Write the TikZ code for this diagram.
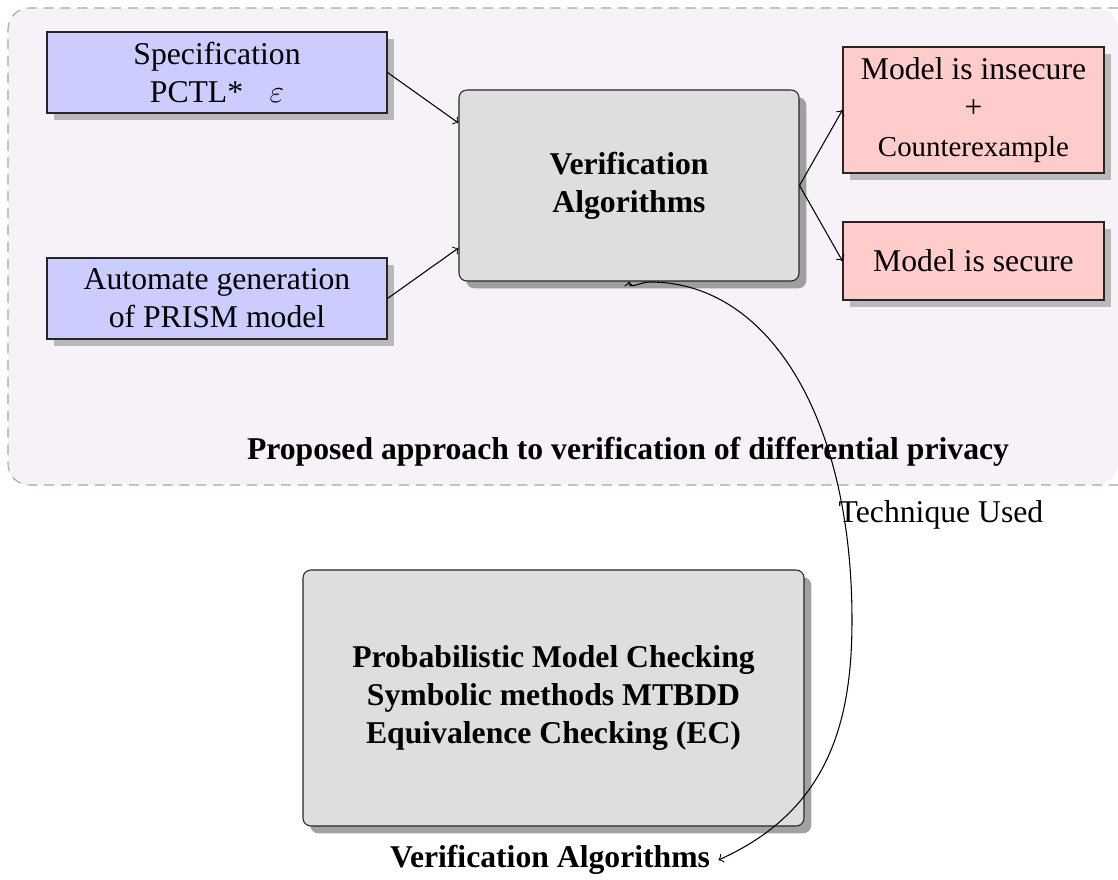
\documentclass[tikz,border=0pt,12pt]{standalone}
\usepackage{fontspec}
\setmainfont{Liberation Serif}
\usetikzlibrary{shadows,calc}
\definecolor{bgcol}{RGB}{247,241,248}
\definecolor{bluebox}{RGB}{204,204,255}
\definecolor{redbox}{RGB}{255,204,204}
\definecolor{graybox}{RGB}{222,222,222}
\newcommand{\pxu}{0.3788pt}
\begin{document}
\begin{tikzpicture}[x=0.3788pt,y=-0.3788pt,
  flatbox/.style={draw=black!85, thin, align=center, drop shadow, inner sep=2pt},
  bluestyle/.style={flatbox, fill=bluebox},
  redstyle/.style={flatbox, fill=redbox},
  roundbox/.style={draw=black!85, thin, fill=graybox, rounded corners=3pt, align=center,
     drop shadow={opacity=0.73}, font=\bfseries},
  conn/.style={->, thin},
  plain/.style={inner sep=3pt}
]
\useasboundingbox (0,0) rectangle (1118,880);
% background panel
\fill[bgcol, rounded corners=8pt] (1118,8) -- (8,8) -- (8,485) -- (1118,485) -- cycle;
\draw[black!35, dash pattern=on 3.8pt off 2.6pt, rounded corners=8pt] (1118,8) -- (8,8) -- (8,485) -- (1118,485);

\node[bluestyle, minimum width={340*\pxu}, minimum height={81*\pxu}] (spec) at (217,72.5)
  {Specification\\PCTL*\hspace{10pt}$\varepsilon$};
\node[bluestyle, minimum width={340*\pxu}, minimum height={81*\pxu}] (auto) at (217,298.5)
  {Automate generation\\of PRISM model};
\node[roundbox, minimum width={340*\pxu}, minimum height={191*\pxu}] (ver) at (629,185.5)
  {Verification\\Algorithms};
\node[redstyle, minimum width={261*\pxu}, minimum height={126*\pxu}] (insecure) at (973.5,110)
  {Model is insecure\\+\\{\small Counterexample}};
\node[redstyle, minimum width={261*\pxu}, minimum height={78*\pxu}] (secure) at (973.5,261)
  {Model is secure};
\node[plain, font=\bfseries] (proposed) at (628,452)
  {Proposed approach to verification of differential privacy};

\node[roundbox, minimum width={501*\pxu}, minimum height={256*\pxu}] (tech) at (553.5,698)
  {Probabilistic Model Checking\\Symbolic methods MTBDD\\Equivalence Checking (EC)};
\node[plain, font=\bfseries] (valabel) at (550,860) {Verification Algorithms};
\node[plain] (technique) at (941,515) {Technique Used};

\draw[conn] (spec.east) -- ($(ver.west)+(0,-62.5)$);
\draw[conn] (auto.east) -- ($(ver.west)+(0,62.5)$);
\draw[conn] (ver.east) -- (insecure.west);
\draw[conn] (ver.east) -- (secure.west);

\coordinate (m) at (852,620);
\coordinate (p) at (650,282);
\draw[<->, thin] (valabel.east) .. controls (830,810) and (852,720) .. (m)
  .. controls (852,420) and (770,282) .. (p)
  .. controls (640,282) and (629,290) .. (ver.south);
\end{tikzpicture}
\end{document}
